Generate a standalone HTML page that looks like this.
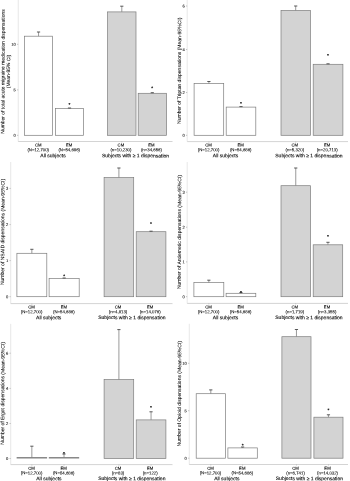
<!DOCTYPE html>
<html lang="en">
<head>
<meta charset="utf-8">
<title>Medication dispensations in CM and EM</title>
<style>
html,body{margin:0;padding:0;background:#fff;}
body{width:350px;height:481px;overflow:hidden;}
svg{display:block;}
.shapes{filter:blur(0.3px);}
.labels{filter:blur(0.22px);}
text{text-rendering:geometricPrecision;font-family:"Liberation Sans",sans-serif;fill:#000;}
.t{font-size:4.9px;stroke:#000;stroke-width:0.06px;}
.g{font-size:5.0px;stroke:#000;stroke-width:0.1px;}
.c{font-size:4.25px;stroke:#000;stroke-width:0.08px;}
.n{font-size:4.3px;stroke:#000;stroke-width:0.08px;}
.k{font-size:4.1px;stroke:#000;stroke-width:0.06px;}
.a{font-size:4.8px;stroke:#000;stroke-width:0.16px;}
</style>
</head>
<body>
<svg width="350" height="481" viewBox="0 0 350 481">
<rect width="350" height="481" fill="#fff"/>
<g class="shapes">
<path d="M18.25 0V141.5" fill="none" stroke="#dedede" stroke-width="0.7"/>
<path d="M18.25 141.5H172.5" fill="none" stroke="#c2c2c2" stroke-width="0.7"/>
<path d="M38.55 141.5v1" stroke="#999" stroke-width="0.5"/>
<path d="M69.5 141.5v1" stroke="#999" stroke-width="0.5"/>
<path d="M121.8 141.5v1" stroke="#999" stroke-width="0.5"/>
<path d="M152.3 141.5v1" stroke="#999" stroke-width="0.5"/>
<path d="M17.05 135.3H18.25" stroke="#888" stroke-width="0.5"/>
<path d="M17.05 89.9H18.25" stroke="#888" stroke-width="0.5"/>
<path d="M17.05 44.3H18.25" stroke="#888" stroke-width="0.5"/>
<rect x="24.5" y="36.2" width="28.1" height="99.1" fill="#fff" stroke="#7c7c7c" stroke-width="0.7"/>
<path d="M38.55 36.2V32" stroke="#808080" stroke-width="0.8" fill="none"/>
<path d="M36.95 32H40.15" stroke="#484848" stroke-width="0.9" fill="none"/>
<rect x="55.4" y="108.6" width="28.2" height="26.7" fill="#fff" stroke="#7c7c7c" stroke-width="0.7"/>
<path d="M69.5 108.6V108" stroke="#808080" stroke-width="0.8" fill="none"/>
<path d="M67.9 108H71.1" stroke="#484848" stroke-width="0.9" fill="none"/>
<rect x="107.6" y="11.9" width="28.4" height="123.4" fill="#d3d3d3" stroke="#7c7c7c" stroke-width="0.7"/>
<path d="M121.8 11.9V6.2" stroke="#808080" stroke-width="0.8" fill="none"/>
<path d="M120.2 6.2H123.4" stroke="#484848" stroke-width="0.9" fill="none"/>
<rect x="138.2" y="93.3" width="28.2" height="42" fill="#d3d3d3" stroke="#7c7c7c" stroke-width="0.7"/>
<path d="M152.3 93.3V92.7" stroke="#808080" stroke-width="0.8" fill="none"/>
<path d="M150.7 92.7H153.9" stroke="#484848" stroke-width="0.9" fill="none"/>
</g>
<g class="labels">
<text class="k" transform="translate(15.85 135.3) rotate(0.25)" text-anchor="end" dy="0.36em">0</text>
<text class="k" transform="translate(15.85 89.9) rotate(0.25)" text-anchor="end" dy="0.36em">5</text>
<text class="k" transform="translate(15.85 44.3) rotate(0.25)" text-anchor="end" dy="0.36em">10</text>
<text class="t" style="font-size:4.95px" transform="translate(3.2 71.5) rotate(-89.75)" text-anchor="middle" dy="0.28em">Number of total acute migraine medication dispensations</text>
<text class="t" style="font-size:4.95px" transform="translate(8.7 71.5) rotate(-89.75)" text-anchor="middle" dy="0.28em">(Mean-95% CI)</text>
<text class="c" transform="translate(38.25 145.05) rotate(0.25)" text-anchor="middle" dy="0.35em">CM</text>
<text class="n" transform="translate(38.25 149.7) rotate(0.25)" text-anchor="middle" dy="0.35em">(N=12,700)</text>
<text class="a" transform="translate(69.5 103.8) rotate(0.25)" text-anchor="middle" dy="0.53em">*</text>
<text class="c" transform="translate(69.2 145.05) rotate(0.25)" text-anchor="middle" dy="0.35em">EM</text>
<text class="n" transform="translate(69.2 149.7) rotate(0.25)" text-anchor="middle" dy="0.35em">(N=54,686)</text>
<text class="c" transform="translate(120.9 145.05) rotate(0.25)" text-anchor="middle" dy="0.35em">CM</text>
<text class="n" transform="translate(120.9 149.7) rotate(0.25)" text-anchor="middle" dy="0.35em">(n=10,230)</text>
<text class="a" transform="translate(152.3 87.3) rotate(0.25)" text-anchor="middle" dy="0.53em">*</text>
<text class="c" transform="translate(151.4 145.05) rotate(0.25)" text-anchor="middle" dy="0.35em">EM</text>
<text class="n" transform="translate(151.4 149.7) rotate(0.25)" text-anchor="middle" dy="0.35em">(n=34,656)</text>
<text class="g" transform="translate(53 155.55) rotate(0.25)" text-anchor="middle" dy="0.35em">All subjects</text>
<text class="g" transform="translate(135.5 155.55) rotate(0.25)" text-anchor="middle" dy="0.35em">Subjects with ≥ 1 dispensation</text>
</g>
<g class="shapes">
<path d="M187.2 0V141.6" fill="none" stroke="#dedede" stroke-width="0.7"/>
<path d="M187.2 141.6H348" fill="none" stroke="#c2c2c2" stroke-width="0.7"/>
<path d="M208.9 141.6v1" stroke="#999" stroke-width="0.5"/>
<path d="M241 141.6v1" stroke="#999" stroke-width="0.5"/>
<path d="M295.7 141.6v1" stroke="#999" stroke-width="0.5"/>
<path d="M328.05 141.6v1" stroke="#999" stroke-width="0.5"/>
<path d="M186 135.3H187.2" stroke="#888" stroke-width="0.5"/>
<path d="M186 92.5H187.2" stroke="#888" stroke-width="0.5"/>
<path d="M186 49.5H187.2" stroke="#888" stroke-width="0.5"/>
<path d="M186 6H187.2" stroke="#888" stroke-width="0.5"/>
<rect x="194.1" y="83.5" width="29.6" height="51.8" fill="#fff" stroke="#7c7c7c" stroke-width="0.7"/>
<path d="M208.9 83.5V81.5" stroke="#808080" stroke-width="0.8" fill="none"/>
<path d="M207.3 81.5H210.5" stroke="#484848" stroke-width="0.9" fill="none"/>
<rect x="226.2" y="107.1" width="29.6" height="28.2" fill="#fff" stroke="#7c7c7c" stroke-width="0.7"/>
<path d="M241 107.1V106.6" stroke="#808080" stroke-width="0.8" fill="none"/>
<path d="M239.4 106.6H242.6" stroke="#484848" stroke-width="0.9" fill="none"/>
<rect x="281" y="10.5" width="29.4" height="124.8" fill="#d3d3d3" stroke="#7c7c7c" stroke-width="0.7"/>
<path d="M295.7 10.5V6" stroke="#808080" stroke-width="0.8" fill="none"/>
<path d="M294.1 6H297.3" stroke="#484848" stroke-width="0.9" fill="none"/>
<rect x="313.2" y="64.3" width="29.7" height="71" fill="#d3d3d3" stroke="#7c7c7c" stroke-width="0.7"/>
<path d="M328.05 64.3V63.8" stroke="#808080" stroke-width="0.8" fill="none"/>
<path d="M326.45 63.8H329.65" stroke="#484848" stroke-width="0.9" fill="none"/>
</g>
<g class="labels">
<text class="k" transform="translate(184.8 135.3) rotate(0.25)" text-anchor="end" dy="0.36em">0</text>
<text class="k" transform="translate(184.8 92.5) rotate(0.25)" text-anchor="end" dy="0.36em">2</text>
<text class="k" transform="translate(184.8 49.5) rotate(0.25)" text-anchor="end" dy="0.36em">4</text>
<text class="k" transform="translate(184.8 6) rotate(0.25)" text-anchor="end" dy="0.36em">6</text>
<text class="t" style="font-size:5.02px" transform="translate(179.6 70.8) rotate(-89.75)" text-anchor="middle" dy="0.28em">Number of Triptan dispensations (Mean-95%CI)</text>
<text class="c" transform="translate(208.6 145.05) rotate(0.25)" text-anchor="middle" dy="0.35em">CM</text>
<text class="n" transform="translate(208.6 149.7) rotate(0.25)" text-anchor="middle" dy="0.35em">(N=12,700)</text>
<text class="a" transform="translate(241 102.6) rotate(0.25)" text-anchor="middle" dy="0.53em">*</text>
<text class="c" transform="translate(240.7 145.05) rotate(0.25)" text-anchor="middle" dy="0.35em">EM</text>
<text class="n" transform="translate(240.7 149.7) rotate(0.25)" text-anchor="middle" dy="0.35em">(N=54,686)</text>
<text class="c" transform="translate(294.8 145.05) rotate(0.25)" text-anchor="middle" dy="0.35em">CM</text>
<text class="n" transform="translate(294.8 149.7) rotate(0.25)" text-anchor="middle" dy="0.35em">(n=5,320)</text>
<text class="a" transform="translate(328.05 54.6) rotate(0.25)" text-anchor="middle" dy="0.53em">*</text>
<text class="c" transform="translate(327.15 145.05) rotate(0.25)" text-anchor="middle" dy="0.35em">EM</text>
<text class="n" transform="translate(327.15 149.7) rotate(0.25)" text-anchor="middle" dy="0.35em">(n=20,713)</text>
<text class="g" transform="translate(225.5 155.55) rotate(0.25)" text-anchor="middle" dy="0.35em">All subjects</text>
<text class="g" transform="translate(308.9 155.55) rotate(0.25)" text-anchor="middle" dy="0.35em">Subjects with ≥ 1 dispensation</text>
</g>
<g class="shapes">
<path d="M10.7 162V303.6" fill="none" stroke="#dedede" stroke-width="0.7"/>
<path d="M10.7 303.6H172.5" fill="none" stroke="#c2c2c2" stroke-width="0.7"/>
<path d="M31.85 303.6v1" stroke="#999" stroke-width="0.5"/>
<path d="M64.15 303.6v1" stroke="#999" stroke-width="0.5"/>
<path d="M118.9 303.6v1" stroke="#999" stroke-width="0.5"/>
<path d="M151.05 303.6v1" stroke="#999" stroke-width="0.5"/>
<path d="M9.5 296.7H10.7" stroke="#888" stroke-width="0.5"/>
<path d="M9.5 260.6H10.7" stroke="#888" stroke-width="0.5"/>
<path d="M9.5 224.6H10.7" stroke="#888" stroke-width="0.5"/>
<path d="M9.5 188.4H10.7" stroke="#888" stroke-width="0.5"/>
<rect x="16.9" y="253.3" width="29.9" height="43.4" fill="#fff" stroke="#7c7c7c" stroke-width="0.7"/>
<path d="M31.85 253.3V249.3" stroke="#808080" stroke-width="0.8" fill="none"/>
<path d="M30.25 249.3H33.45" stroke="#484848" stroke-width="0.9" fill="none"/>
<rect x="49.1" y="278.5" width="30.1" height="18.2" fill="#fff" stroke="#7c7c7c" stroke-width="0.7"/>
<path d="M64.15 278.5V278" stroke="#808080" stroke-width="0.8" fill="none"/>
<path d="M62.55 278H65.75" stroke="#484848" stroke-width="0.9" fill="none"/>
<rect x="104.1" y="177.6" width="29.6" height="119.1" fill="#d3d3d3" stroke="#7c7c7c" stroke-width="0.7"/>
<path d="M118.9 177.6V168" stroke="#808080" stroke-width="0.8" fill="none"/>
<path d="M117.3 168H120.5" stroke="#484848" stroke-width="0.9" fill="none"/>
<rect x="136.2" y="231.7" width="29.7" height="65" fill="#d3d3d3" stroke="#7c7c7c" stroke-width="0.7"/>
<path d="M151.05 231.7V231.2" stroke="#808080" stroke-width="0.8" fill="none"/>
<path d="M149.45 231.2H152.65" stroke="#484848" stroke-width="0.9" fill="none"/>
</g>
<g class="labels">
<text class="k" transform="translate(8.3 296.7) rotate(0.25)" text-anchor="end" dy="0.36em">0</text>
<text class="k" transform="translate(8.3 260.6) rotate(0.25)" text-anchor="end" dy="0.36em">1</text>
<text class="k" transform="translate(8.3 224.6) rotate(0.25)" text-anchor="end" dy="0.36em">2</text>
<text class="k" transform="translate(8.3 188.4) rotate(0.25)" text-anchor="end" dy="0.36em">3</text>
<text class="t" style="font-size:5.02px" transform="translate(2.9 232) rotate(-89.75)" text-anchor="middle" dy="0.28em">Number of NSAID dispensations (Mean-95%CI)</text>
<text class="c" transform="translate(31.55 306.9) rotate(0.25)" text-anchor="middle" dy="0.35em">CM</text>
<text class="n" transform="translate(31.55 311.7) rotate(0.25)" text-anchor="middle" dy="0.35em">(N=12,700)</text>
<text class="a" transform="translate(64.15 275.2) rotate(0.25)" text-anchor="middle" dy="0.53em">*</text>
<text class="c" transform="translate(63.85 306.9) rotate(0.25)" text-anchor="middle" dy="0.35em">EM</text>
<text class="n" transform="translate(63.85 311.7) rotate(0.25)" text-anchor="middle" dy="0.35em">(N=54,686)</text>
<text class="c" transform="translate(118 306.9) rotate(0.25)" text-anchor="middle" dy="0.35em">CM</text>
<text class="n" transform="translate(118 311.7) rotate(0.25)" text-anchor="middle" dy="0.35em">(n=4,813)</text>
<text class="a" transform="translate(151.05 222.9) rotate(0.25)" text-anchor="middle" dy="0.53em">*</text>
<text class="c" transform="translate(150.15 306.9) rotate(0.25)" text-anchor="middle" dy="0.35em">EM</text>
<text class="n" transform="translate(150.15 311.7) rotate(0.25)" text-anchor="middle" dy="0.35em">(n=14,076)</text>
<text class="g" transform="translate(48.7 317.45) rotate(0.25)" text-anchor="middle" dy="0.35em">All subjects</text>
<text class="g" transform="translate(131.85 317.45) rotate(0.25)" text-anchor="middle" dy="0.35em">Subjects with ≥ 1 dispensation</text>
</g>
<g class="shapes">
<path d="M187.2 162V303.4" fill="none" stroke="#dedede" stroke-width="0.7"/>
<path d="M187.2 303.4H348" fill="none" stroke="#c2c2c2" stroke-width="0.7"/>
<path d="M208.85 303.4v1" stroke="#999" stroke-width="0.5"/>
<path d="M240.95 303.4v1" stroke="#999" stroke-width="0.5"/>
<path d="M295.75 303.4v1" stroke="#999" stroke-width="0.5"/>
<path d="M327.95 303.4v1" stroke="#999" stroke-width="0.5"/>
<path d="M186 296.7H187.2" stroke="#888" stroke-width="0.5"/>
<path d="M186 261.9H187.2" stroke="#888" stroke-width="0.5"/>
<path d="M186 227.2H187.2" stroke="#888" stroke-width="0.5"/>
<path d="M186 192.2H187.2" stroke="#888" stroke-width="0.5"/>
<rect x="193.9" y="282.5" width="29.9" height="14.2" fill="#fff" stroke="#7c7c7c" stroke-width="0.7"/>
<path d="M208.85 282.5V280.2" stroke="#808080" stroke-width="0.8" fill="none"/>
<path d="M207.25 280.2H210.45" stroke="#484848" stroke-width="0.9" fill="none"/>
<rect x="226.1" y="293.3" width="29.7" height="3.4" fill="#fff" stroke="#7c7c7c" stroke-width="0.7"/>
<path d="M240.95 293.3V292.6" stroke="#808080" stroke-width="0.8" fill="none"/>
<path d="M239.35 292.6H242.55" stroke="#484848" stroke-width="0.9" fill="none"/>
<rect x="281" y="185.7" width="29.5" height="111" fill="#d3d3d3" stroke="#7c7c7c" stroke-width="0.7"/>
<path d="M295.75 185.7V168" stroke="#808080" stroke-width="0.8" fill="none"/>
<path d="M294.15 168H297.35" stroke="#484848" stroke-width="0.9" fill="none"/>
<rect x="313.2" y="244.8" width="29.5" height="51.9" fill="#d3d3d3" stroke="#7c7c7c" stroke-width="0.7"/>
<path d="M327.95 244.8V242.3" stroke="#808080" stroke-width="0.8" fill="none"/>
<path d="M326.35 242.3H329.55" stroke="#484848" stroke-width="0.9" fill="none"/>
</g>
<g class="labels">
<text class="k" transform="translate(184.8 296.7) rotate(0.25)" text-anchor="end" dy="0.36em">0</text>
<text class="k" transform="translate(184.8 261.9) rotate(0.25)" text-anchor="end" dy="0.36em">1</text>
<text class="k" transform="translate(184.8 227.2) rotate(0.25)" text-anchor="end" dy="0.36em">2</text>
<text class="k" transform="translate(184.8 192.2) rotate(0.25)" text-anchor="end" dy="0.36em">3</text>
<text class="t" style="font-size:5.03px" transform="translate(179.6 232.1) rotate(-89.75)" text-anchor="middle" dy="0.28em">Number of Antiemetic dispensations (Mean-95%CI)</text>
<text class="c" transform="translate(208.55 306.9) rotate(0.25)" text-anchor="middle" dy="0.35em">CM</text>
<text class="n" transform="translate(208.55 311.7) rotate(0.25)" text-anchor="middle" dy="0.35em">(N=12,700)</text>
<text class="a" transform="translate(240.95 291.7) rotate(0.25)" text-anchor="middle" dy="0.53em">*</text>
<text class="c" transform="translate(240.65 306.9) rotate(0.25)" text-anchor="middle" dy="0.35em">EM</text>
<text class="n" transform="translate(240.65 311.7) rotate(0.25)" text-anchor="middle" dy="0.35em">(N=54,686)</text>
<text class="c" transform="translate(294.85 306.9) rotate(0.25)" text-anchor="middle" dy="0.35em">CM</text>
<text class="n" transform="translate(294.85 311.7) rotate(0.25)" text-anchor="middle" dy="0.35em">(n=1,719)</text>
<text class="a" transform="translate(327.95 235.8) rotate(0.25)" text-anchor="middle" dy="0.53em">*</text>
<text class="c" transform="translate(327.05 306.9) rotate(0.25)" text-anchor="middle" dy="0.35em">EM</text>
<text class="n" transform="translate(327.05 311.7) rotate(0.25)" text-anchor="middle" dy="0.35em">(n=3,355)</text>
<text class="g" transform="translate(225.5 317.45) rotate(0.25)" text-anchor="middle" dy="0.35em">All subjects</text>
<text class="g" transform="translate(308.9 317.45) rotate(0.25)" text-anchor="middle" dy="0.35em">Subjects with ≥ 1 dispensation</text>
</g>
<g class="shapes">
<path d="M10.7 323.8V464.6" fill="none" stroke="#dedede" stroke-width="0.7"/>
<path d="M10.7 464.6H172.5" fill="none" stroke="#c2c2c2" stroke-width="0.7"/>
<path d="M31.85 464.6v1" stroke="#999" stroke-width="0.5"/>
<path d="M64 464.6v1" stroke="#999" stroke-width="0.5"/>
<path d="M118.9 464.6v1" stroke="#999" stroke-width="0.5"/>
<path d="M151.05 464.6v1" stroke="#999" stroke-width="0.5"/>
<path d="M9.5 458.5H10.7" stroke="#888" stroke-width="0.5"/>
<path d="M9.5 423.5H10.7" stroke="#888" stroke-width="0.5"/>
<path d="M9.5 388.4H10.7" stroke="#888" stroke-width="0.5"/>
<path d="M9.5 353.2H10.7" stroke="#888" stroke-width="0.5"/>
<rect x="16.9" y="457.7" width="29.9" height="0.35" fill="#5c5c5c" stroke="#5c5c5c" stroke-width="0.6"/>
<path d="M31.85 457.5V446.2" stroke="#808080" stroke-width="0.8" fill="none"/>
<path d="M30.25 446.2H33.45" stroke="#484848" stroke-width="0.9" fill="none"/>
<rect x="49.1" y="457.7" width="29.8" height="0.35" fill="#5c5c5c" stroke="#5c5c5c" stroke-width="0.6"/>
<path d="M64 457.7V454" stroke="#808080" stroke-width="0.8" fill="none"/>
<path d="M62.4 454H65.6" stroke="#484848" stroke-width="0.9" fill="none"/>
<rect x="104.1" y="379.6" width="29.6" height="78.9" fill="#d3d3d3" stroke="#7c7c7c" stroke-width="0.7"/>
<path d="M118.9 379.6V329.6" stroke="#808080" stroke-width="0.8" fill="none"/>
<path d="M117.3 329.6H120.5" stroke="#484848" stroke-width="0.9" fill="none"/>
<rect x="136.2" y="419.9" width="29.7" height="38.6" fill="#d3d3d3" stroke="#7c7c7c" stroke-width="0.7"/>
<path d="M151.05 419.9V411.8" stroke="#808080" stroke-width="0.8" fill="none"/>
<path d="M149.45 411.8H152.65" stroke="#484848" stroke-width="0.9" fill="none"/>
</g>
<g class="labels">
<text class="k" transform="translate(8.3 458.5) rotate(0.25)" text-anchor="end" dy="0.36em">0</text>
<text class="k" transform="translate(8.3 423.5) rotate(0.25)" text-anchor="end" dy="0.36em">2</text>
<text class="k" transform="translate(8.3 388.4) rotate(0.25)" text-anchor="end" dy="0.36em">4</text>
<text class="k" transform="translate(8.3 353.2) rotate(0.25)" text-anchor="end" dy="0.36em">6</text>
<text class="t" style="font-size:5.01px" transform="translate(2.9 393.4) rotate(-89.75)" text-anchor="middle" dy="0.28em">Number of Ergot dispensations (Mean-95%CI)</text>
<text class="c" transform="translate(31.55 468.3) rotate(0.25)" text-anchor="middle" dy="0.35em">CM</text>
<text class="n" transform="translate(31.55 472.9) rotate(0.25)" text-anchor="middle" dy="0.35em">(N=12,700)</text>
<text class="a" transform="translate(64 452.8) rotate(0.25)" text-anchor="middle" dy="0.53em">*</text>
<text class="c" transform="translate(63.7 468.3) rotate(0.25)" text-anchor="middle" dy="0.35em">EM</text>
<text class="n" transform="translate(63.7 472.9) rotate(0.25)" text-anchor="middle" dy="0.35em">(N=54,686)</text>
<text class="c" transform="translate(118 468.3) rotate(0.25)" text-anchor="middle" dy="0.35em">CM</text>
<text class="n" transform="translate(118 472.9) rotate(0.25)" text-anchor="middle" dy="0.35em">(n=83)</text>
<text class="a" transform="translate(151.05 406.8) rotate(0.25)" text-anchor="middle" dy="0.53em">*</text>
<text class="c" transform="translate(150.15 468.3) rotate(0.25)" text-anchor="middle" dy="0.35em">EM</text>
<text class="n" transform="translate(150.15 472.9) rotate(0.25)" text-anchor="middle" dy="0.35em">(n=122)</text>
<text class="g" transform="translate(48.9 478.45) rotate(0.25)" text-anchor="middle" dy="0.35em">All subjects</text>
<text class="g" transform="translate(131.8 478.45) rotate(0.25)" text-anchor="middle" dy="0.35em">Subjects with ≥ 1 dispensation</text>
</g>
<g class="shapes">
<path d="M189.3 323.8V464.5" fill="none" stroke="#dedede" stroke-width="0.7"/>
<path d="M189.3 464.5H348" fill="none" stroke="#c2c2c2" stroke-width="0.7"/>
<path d="M210.8 464.5v1" stroke="#999" stroke-width="0.5"/>
<path d="M242.6 464.5v1" stroke="#999" stroke-width="0.5"/>
<path d="M296.45 464.5v1" stroke="#999" stroke-width="0.5"/>
<path d="M328.45 464.5v1" stroke="#999" stroke-width="0.5"/>
<path d="M188.1 458.2H189.3" stroke="#888" stroke-width="0.5"/>
<path d="M188.1 410.7H189.3" stroke="#888" stroke-width="0.5"/>
<path d="M188.1 363.3H189.3" stroke="#888" stroke-width="0.5"/>
<rect x="196.2" y="393.7" width="29.2" height="64.5" fill="#fff" stroke="#7c7c7c" stroke-width="0.7"/>
<path d="M210.8 393.7V389.9" stroke="#808080" stroke-width="0.8" fill="none"/>
<path d="M209.2 389.9H212.4" stroke="#484848" stroke-width="0.9" fill="none"/>
<rect x="227.9" y="447.9" width="29.4" height="10.3" fill="#fff" stroke="#7c7c7c" stroke-width="0.7"/>
<path d="M242.6 447.9V447" stroke="#808080" stroke-width="0.8" fill="none"/>
<path d="M241 447H244.2" stroke="#484848" stroke-width="0.9" fill="none"/>
<rect x="281.9" y="336.7" width="29.1" height="121.5" fill="#d3d3d3" stroke="#7c7c7c" stroke-width="0.7"/>
<path d="M296.45 336.7V329.5" stroke="#808080" stroke-width="0.8" fill="none"/>
<path d="M294.85 329.5H298.05" stroke="#484848" stroke-width="0.9" fill="none"/>
<rect x="313.9" y="417.2" width="29.1" height="41" fill="#d3d3d3" stroke="#7c7c7c" stroke-width="0.7"/>
<path d="M328.45 417.2V414.8" stroke="#808080" stroke-width="0.8" fill="none"/>
<path d="M326.85 414.8H330.05" stroke="#484848" stroke-width="0.9" fill="none"/>
</g>
<g class="labels">
<text class="k" transform="translate(186.9 458.2) rotate(0.25)" text-anchor="end" dy="0.36em">0</text>
<text class="k" transform="translate(186.9 410.7) rotate(0.25)" text-anchor="end" dy="0.36em">5</text>
<text class="k" transform="translate(186.9 363.3) rotate(0.25)" text-anchor="end" dy="0.36em">10</text>
<text class="t" style="font-size:5.03px" transform="translate(179.6 393.75) rotate(-89.75)" text-anchor="middle" dy="0.28em">Number of Opioid dispensations (Mean-95%CI)</text>
<text class="c" transform="translate(210.5 468.3) rotate(0.25)" text-anchor="middle" dy="0.35em">CM</text>
<text class="n" transform="translate(210.5 472.9) rotate(0.25)" text-anchor="middle" dy="0.35em">(N=12,700)</text>
<text class="a" transform="translate(242.6 444.4) rotate(0.25)" text-anchor="middle" dy="0.53em">*</text>
<text class="c" transform="translate(242.3 468.3) rotate(0.25)" text-anchor="middle" dy="0.35em">EM</text>
<text class="n" transform="translate(242.3 472.9) rotate(0.25)" text-anchor="middle" dy="0.35em">(N=54,686)</text>
<text class="c" transform="translate(295.55 468.3) rotate(0.25)" text-anchor="middle" dy="0.35em">CM</text>
<text class="n" transform="translate(295.55 472.9) rotate(0.25)" text-anchor="middle" dy="0.35em">(n=6,741)</text>
<text class="a" transform="translate(328.45 409.3) rotate(0.25)" text-anchor="middle" dy="0.53em">*</text>
<text class="c" transform="translate(327.55 468.3) rotate(0.25)" text-anchor="middle" dy="0.35em">EM</text>
<text class="n" transform="translate(327.55 472.9) rotate(0.25)" text-anchor="middle" dy="0.35em">(n=14,032)</text>
<text class="g" transform="translate(226.8 478.45) rotate(0.25)" text-anchor="middle" dy="0.35em">All subjects</text>
<text class="g" transform="translate(309.4 478.45) rotate(0.25)" text-anchor="middle" dy="0.35em">Subjects with ≥ 1 dispensation</text>
</g>
</svg>
</body>
</html>
